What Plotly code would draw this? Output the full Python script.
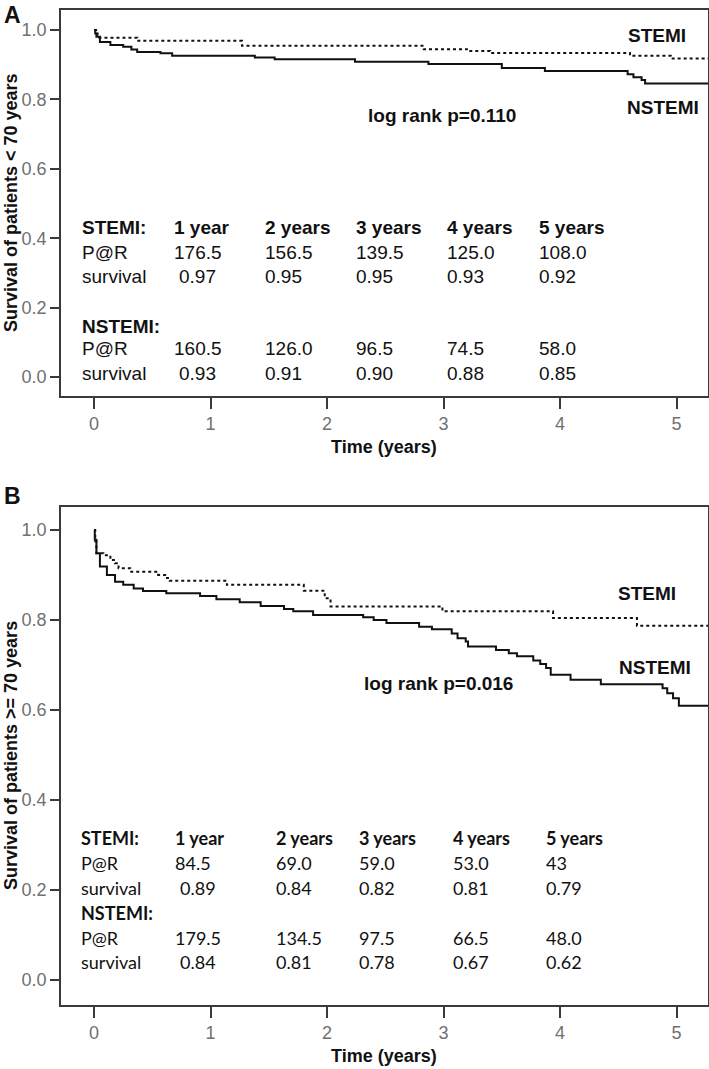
import plotly.graph_objects as go

W, H = 709, 1069

# ---------------- data ----------------
# Panel A (patients < 70 years)
a_stemi_t = [0, 0.03, 0.37, 1.27, 2.83, 3.2, 3.4, 4.6, 4.95, 5.27]
a_stemi_s = [1.0, 0.978, 0.969, 0.955, 0.945, 0.940, 0.934, 0.926, 0.918, 0.918]
a_nstemi_t = [0, 0.01, 0.02, 0.05, 0.14, 0.25, 0.32, 0.37, 0.57, 0.67, 1.38, 1.55,
              2.24, 2.87, 3.5, 3.87, 4.58, 4.63, 4.7, 4.73, 5.27]
a_nstemi_s = [1.0, 0.99, 0.981, 0.966, 0.957, 0.952, 0.944, 0.937, 0.933, 0.926, 0.921, 0.916,
              0.909, 0.902, 0.891, 0.882, 0.873, 0.864, 0.856, 0.846, 0.846]

# Panel B (patients >= 70 years)
b_stemi_t = [0, 0.01, 0.02, 0.08, 0.14, 0.18, 0.21, 0.31, 0.55, 0.61, 0.65, 1.14, 1.8,
             1.98, 2.03, 2.99, 3.94, 4.66, 5.27]
b_stemi_s = [1.0, 0.975, 0.948, 0.944, 0.933, 0.926, 0.915, 0.907, 0.9, 0.893, 0.887, 0.878,
             0.865, 0.848, 0.830, 0.819, 0.804, 0.787, 0.787]
b_nstemi_t = [0, 0.006, 0.02, 0.05, 0.11, 0.18, 0.25, 0.34, 0.42, 0.62, 0.91, 1.05, 1.25,
              1.43, 1.63, 1.71, 1.88, 2.31, 2.4, 2.51, 2.79, 2.9, 3.07, 3.12, 3.19, 3.21,
              3.45, 3.56, 3.63, 3.77, 3.83, 3.88, 3.92, 4.09, 4.35, 4.88, 4.92, 4.97, 5.02, 5.27]
b_nstemi_s = [1.0, 0.978, 0.948, 0.919, 0.9, 0.885, 0.878, 0.870, 0.864, 0.859, 0.853, 0.846,
              0.839, 0.831, 0.824, 0.819, 0.811, 0.806, 0.8, 0.793, 0.785, 0.779, 0.77, 0.759,
              0.752, 0.741, 0.733, 0.726, 0.719, 0.710, 0.702, 0.693, 0.678, 0.667, 0.657,
              0.648, 0.637, 0.626, 0.609, 0.609]

x_ticks = [0, 1, 2, 3, 4, 5]
y_ticks = [0.0, 0.2, 0.4, 0.6, 0.8, 1.0]

# Tables
col_headers = ["1 year", "2 years", "3 years", "4 years", "5 years"]
a_stemi_par = ["176.5", "156.5", "139.5", "125.0", "108.0"]
a_stemi_surv = ["0.97", "0.95", "0.95", "0.93", "0.92"]
a_nstemi_par = ["160.5", "126.0", "96.5", "74.5", "58.0"]
a_nstemi_surv = ["0.93", "0.91", "0.90", "0.88", "0.85"]

b_stemi_par = ["84.5", "69.0", "59.0", "53.0", "43"]
b_stemi_surv = ["0.89", "0.84", "0.82", "0.81", "0.79"]
b_nstemi_par = ["179.5", "134.5", "97.5", "66.5", "48.0"]
b_nstemi_surv = ["0.84", "0.81", "0.78", "0.67", "0.62"]

# ---------------- helpers ----------------
def PX(x):
    return x / W

def PY(y):
    return 1 - y / H

ARIAL = "Arial"
CALI = "Lato"
TXT = "#111111"
FRAME = "#3a3a3a"

fig = go.Figure()

def add_curves(t1, s1, t2, s2, xa, ya):
    fig.add_trace(go.Scatter(x=t1, y=s1, mode="lines", line_shape="hv",
                             line=dict(color="#111111", width=2, dash="dot"),
                             xaxis=xa, yaxis=ya, showlegend=False, hoverinfo="skip"))
    fig.add_trace(go.Scatter(x=t2, y=s2, mode="lines", line_shape="hv",
                             line=dict(color="#111111", width=2),
                             xaxis=xa, yaxis=ya, showlegend=False, hoverinfo="skip"))

add_curves(a_stemi_t, a_stemi_s, a_nstemi_t, a_nstemi_s, "x", "y")
add_curves(b_stemi_t, b_stemi_s, b_nstemi_t, b_nstemi_s, "x2", "y2")

xdom = [61 / W, 708 / W]
xrange_ = [-0.284, 5.27]

def xaxis(anchor):
    return dict(domain=xdom, range=xrange_, anchor=anchor, tickvals=x_ticks,
                ticks="outside", ticklen=11, tickwidth=1.5, tickcolor=FRAME,
                showline=True, mirror=True, linecolor=FRAME, linewidth=1.5,
                showgrid=False, zeroline=False, automargin=False,
                tickfont=dict(family=ARIAL, size=18, color="#707070"))

def yaxis(anchor, dom, rng):
    return dict(domain=dom, range=rng, anchor=anchor, tickvals=y_ticks, tickformat=".1f",
                ticks="outside", ticklen=9, tickwidth=1.5, tickcolor=FRAME,
                showline=True, mirror=True, linecolor=FRAME, linewidth=1.5,
                showgrid=False, zeroline=False, automargin=False,
                tickfont=dict(family=ARIAL, size=18, color="#707070"))

fig.update_layout(
    width=W, height=H, margin=dict(l=0, r=0, t=0, b=0, autoexpand=False),
    paper_bgcolor="white", plot_bgcolor="white",
    xaxis=xaxis("y"),
    yaxis=yaxis("x", [PY(396), PY(10)], [-0.055, 1.058]),
    xaxis2=xaxis("y2"),
    yaxis2=yaxis("x2", [PY(1005), PY(507)], [-0.056, 1.051]),
)

ann = []

def text(x, y, s, font, size, bold=False, xanchor="left", angle=0, color=TXT):
    ann.append(dict(x=PX(x), y=PY(y), xref="paper", yref="paper",
                    text=("<b>%s</b>" % s) if bold else s, showarrow=False,
                    xanchor=xanchor, yanchor="middle", textangle=angle,
                    font=dict(family=font, size=size, color=color)))

# Panel letters
text(12, 15, "A", ARIAL, 23, bold=True, xanchor="center")
text(12, 496, "B", ARIAL, 23, bold=True, xanchor="center")

# Axis titles
text(384, 447, "Time (years)", ARIAL, 18, bold=True, xanchor="center")
text(384, 1056, "Time (years)", ARIAL, 18, bold=True, xanchor="center")
text(11, 203, "Survival of patients &lt; 70 years", ARIAL, 18, bold=True, xanchor="center", angle=-90)
text(11, 756, "Survival of patients &gt;= 70 years", ARIAL, 18, bold=True, xanchor="center", angle=-90)

# Curve labels and log rank
text(626, 36, "STEMI", ARIAL, 19, bold=True)
text(625, 107, "NSTEMI", ARIAL, 19, bold=True)
text(366, 115, "log rank p=0.110", ARIAL, 19, bold=True)
text(616, 593, "STEMI", ARIAL, 19, bold=True)
text(617, 667, "NSTEMI", ARIAL, 19, bold=True)
text(362, 683, "log rank p=0.016", ARIAL, 19, bold=True)

# Table A
colsA = [172, 263, 354, 445, 537]
rowsA = [228, 252, 276, 326, 349, 373]
text(80, rowsA[0], "STEMI:", ARIAL, 19, bold=True)
text(80, rowsA[1], "P@R", ARIAL, 19)
text(80, rowsA[2], "survival", ARIAL, 19)
text(80, rowsA[3], "NSTEMI:", ARIAL, 19, bold=True)
text(80, rowsA[4], "P@R", ARIAL, 19)
text(80, rowsA[5], "survival", ARIAL, 19)
for i, cx in enumerate(colsA):
    sx = cx + 5 if i == 0 else cx
    text(cx, rowsA[0], col_headers[i], ARIAL, 19, bold=True)
    text(cx, rowsA[1], a_stemi_par[i], ARIAL, 19)
    text(sx, rowsA[2], a_stemi_surv[i], ARIAL, 19)
    text(cx, rowsA[4], a_nstemi_par[i], ARIAL, 19)
    text(sx, rowsA[5], a_nstemi_surv[i], ARIAL, 19)

# Table B
colsB = [173, 274, 357, 451, 544]
rowsB = [838, 863, 888, 913, 938, 962]
text(79, rowsB[0], "STEMI:", CALI, 18, bold=True)
text(79, rowsB[1], "P@R", CALI, 18)
text(79, rowsB[2], "survival", CALI, 18)
text(79, rowsB[3], "NSTEMI:", CALI, 18, bold=True)
text(79, rowsB[4], "P@R", CALI, 18)
text(79, rowsB[5], "survival", CALI, 18)
for i, cx in enumerate(colsB):
    sx = cx + 5 if i == 0 else cx
    text(cx, rowsB[0], col_headers[i], CALI, 18, bold=True)
    text(cx, rowsB[1], b_stemi_par[i], CALI, 18)
    text(sx, rowsB[2], b_stemi_surv[i], CALI, 18)
    text(cx, rowsB[4], b_nstemi_par[i], CALI, 18)
    text(sx, rowsB[5], b_nstemi_surv[i], CALI, 18)

fig.update_layout(annotations=ann)

fig.write_html(
    "out.html",
    config={"displayModeBar": False},
    post_script="document.body.style.margin='0';document.body.style.overflow='hidden';",
)
